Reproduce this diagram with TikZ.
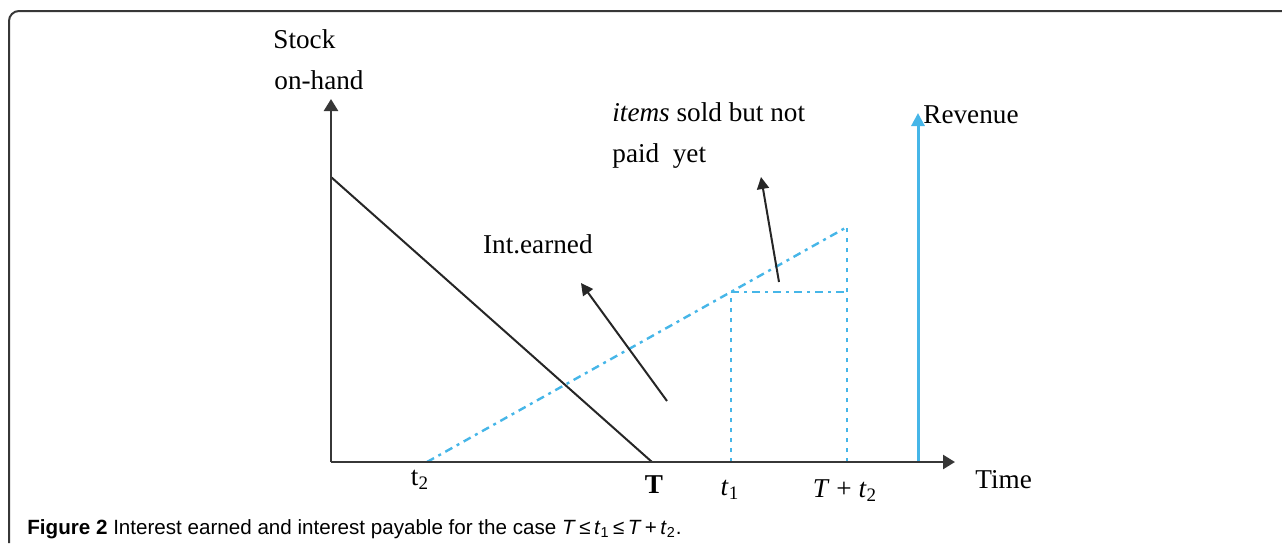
\documentclass[tikz,border=0pt]{standalone}
\usepackage{fontspec}
\setmainfont{Liberation Serif}
\newfontfamily\capfont{Liberation Sans}
\usetikzlibrary{arrows.meta}
\definecolor{skyline}{RGB}{70,182,232}
\definecolor{axisgray}{RGB}{55,55,55}
\tikzset{
  lbl/.style={font=\fontsize{13.6}{16}\selectfont, inner sep=0pt},
  axisline/.style={axisgray, line width=1.25pt, -{Triangle[length=6pt,width=7pt]}},
  pointer/.style={black!85, line width=1pt, -{Triangle[length=6pt,width=6pt]}},
  dashdotline/.style={skyline, line width=1.2pt, dash pattern=on 4pt off 2.5pt on 1.5pt off 2.5pt},
  dotline/.style={skyline, line width=1.2pt, dash pattern=on 2pt off 3pt},
}
\begin{document}
\begin{tikzpicture}[x=0.5pt, y=-0.5pt]
  \useasboundingbox (0,0) rectangle (1282,543);
  % Frame
  \draw[axisgray, line width=1pt, rounded corners=5pt] (9,543) -- (9,11) -- (1282,11);
  % Points on the axes
  \coordinate (O) at (331,462);
  \coordinate (ytop) at (331,99);
  \coordinate (xend) at (955,462);
  \coordinate (s0) at (331,177);
  \coordinate (T) at (652,462);
  \coordinate (t2) at (427,462);
  \coordinate (t1) at (731,462);
  \coordinate (Tt2) at (847,462);
  \coordinate (t1c) at (731,292);
  \coordinate (Tt2c) at (847,292);
  \coordinate (peak) at (847,227);
  \coordinate (rev0) at (918,462);
  \coordinate (rev1) at (918,113);
  % Stock level
  \draw[black!85, line width=1pt] (s0) -- (T);
  % Sales line and payable part
  \draw[dashdotline] (t2) -- (peak);
  \draw[dashdotline] (t1c) -- (Tt2c);
  \draw[dotline] (t1) -- (t1c);
  \draw[dotline] (Tt2) -- (peak);
  % Revenue
  \draw[skyline, line width=1.5pt, -{Triangle[length=6.5pt,width=6.5pt]}] (rev0) -- (rev1);
  % Axes
  \draw[axisline] (O) -- (ytop);
  \draw[axisline] (O) -- (xend);
  % Pointers to the labels
  \coordinate (p1a) at (667,401);
  \coordinate (p1b) at (581,283);
  \coordinate (p2a) at (779,282);
  \coordinate (p2b) at (761,177);
  \draw[pointer] (p1a) -- (p1b);
  \draw[pointer] (p2a) -- (p2b);
  % Labels
  \node[lbl, anchor=base west] (stock) at (273,48) {Stock};
  \node[lbl, anchor=base west] (onhand) at (274,89) {on-hand};
  \node[lbl, anchor=base west] (items) at (612,121) {\textit{items} sold but not};
  \node[lbl, anchor=base west] (paid) at (612,162) {paid\enspace yet};
  \node[lbl, anchor=base east] (earned) at (593,253) {Int.earned};
  \node[lbl, anchor=base west] (revenue) at (923,123) {Revenue};
  \node[lbl, anchor=base west] (time) at (975,488) {Time};
  \node[lbl, anchor=base] (lt2) at (420,485) {t\textsubscript{2}};
  \node[lbl, anchor=base] (lT) at (654,493) {\textbf{T}};
  \node[lbl, anchor=base] (lt1) at (730,495) {\textit{t}\textsubscript{1}};
  \node[lbl, anchor=base] (lTt2) at (845,497) {\textit{T} + \textit{t}\textsubscript{2}};
  % Caption
  \node[inner sep=0pt, anchor=base west, font=\capfont\fontsize{10.3}{12}\selectfont] (caption) at (27,534)
    {\textbf{Figure 2} Interest earned and interest payable for the case \textit{T}\,≤\,\textit{t}\textsubscript{1}\,≤\,\textit{T}\,+\,\textit{t}\textsubscript{2}.};
\end{tikzpicture}
\end{document}
